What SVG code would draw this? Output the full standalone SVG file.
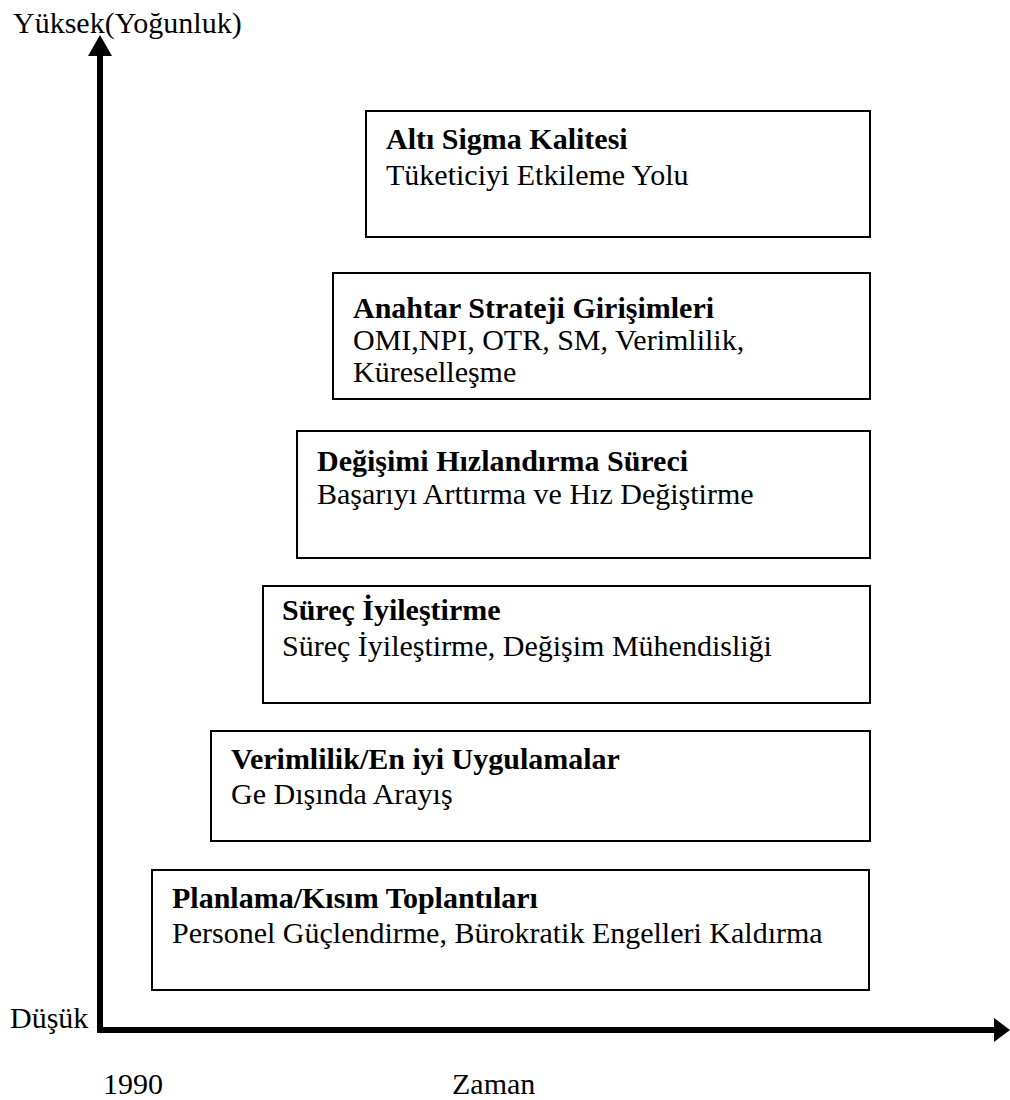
<svg xmlns="http://www.w3.org/2000/svg" width="1010" height="1100" viewBox="0 0 1010 1100">
<style>
.box{fill:#fff;stroke:#000;stroke-width:2}
.t{font-family:"Liberation Serif","Times New Roman",serif;font-size:30px;fill:#000}
.b{font-weight:bold}
</style>
<rect width="1010" height="1100" fill="#fff"/>
<g id="connectors">
<line x1="100" y1="54" x2="100" y2="1033" stroke="#000" stroke-width="6"/>
<line x1="97" y1="1030" x2="996" y2="1030" stroke="#000" stroke-width="6"/>
<polygon points="100,35 88,56 112,56" fill="#000"/>
<polygon points="1010,1030 994,1018 994,1042" fill="#000"/>
</g>
<g id="labels">
<text class="t" x="13" y="33">Yüksek(Yoğunluk)</text>
<text class="t" x="10" y="1028">Düşük</text>
<text class="t" x="103" y="1094">1990</text>
<text class="t" x="452" y="1094">Zaman</text>
</g>
<g id="node-alti">
<rect class="box" x="366" y="111" width="504" height="126"/>
<text class="t b" x="386" y="149">Altı Sigma Kalitesi</text>
<text class="t" x="386" y="185">Tüketiciyi Etkileme Yolu</text>
</g>
<g id="node-anahtar">
<rect class="box" x="333" y="273" width="537" height="126"/>
<text class="t b" x="353" y="318">Anahtar Strateji Girişimleri</text>
<text class="t" x="353" y="350">OMI,NPI, OTR, SM, Verimlilik,</text>
<text class="t" x="353" y="382">Küreselleşme</text>
</g>
<g id="node-degisimi">
<rect class="box" x="297" y="431" width="573" height="127"/>
<text class="t b" x="317" y="471">Değişimi Hızlandırma Süreci</text>
<text class="t" x="317" y="504">Başarıyı Arttırma ve Hız Değiştirme</text>
</g>
<g id="node-surec">
<rect class="box" x="263" y="586" width="607" height="117"/>
<text class="t b" x="282" y="620">Süreç İyileştirme</text>
<text class="t" x="282" y="656">Süreç İyileştirme, Değişim Mühendisliği</text>
</g>
<g id="node-verimlilik">
<rect class="box" x="211" y="731" width="659" height="110"/>
<text class="t b" x="231" y="769">Verimlilik/En iyi Uygulamalar</text>
<text class="t" x="231" y="804">Ge Dışında Arayış</text>
</g>
<g id="node-planlama">
<rect class="box" x="152" y="870" width="717" height="120"/>
<text class="t b" x="172" y="908">Planlama/Kısım Toplantıları</text>
<text class="t" x="172" y="943">Personel Güçlendirme, Bürokratik Engelleri Kaldırma</text>
</g>
</svg>
